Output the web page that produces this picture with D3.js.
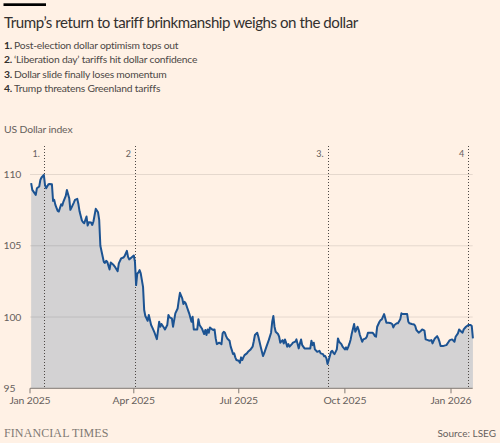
<!DOCTYPE html>
<html>
<head>
<meta charset="utf-8">
<script src="https://cdn.jsdelivr.net/npm/d3@7"></script>
<style>
  body { margin:0; background:#fff1e5; }
  svg { display:block; font-family:Lato, "Noto Sans", sans-serif; }
</style>
</head>
<body>
<div id="chart-area"></div>
<script>

// DXY closes
var dates = [
 "2025-01-02","2025-01-03","2025-01-06","2025-01-07","2025-01-09","2025-01-10","2025-01-11","2025-01-13","2025-01-14","2025-01-15",
 "2025-01-17","2025-01-18","2025-01-20","2025-01-21","2025-01-22","2025-01-23","2025-01-25","2025-01-26","2025-01-28","2025-01-29",
 "2025-01-30","2025-02-01","2025-02-02","2025-02-04","2025-02-05","2025-02-06","2025-02-08","2025-02-09","2025-02-11","2025-02-12",
 "2025-02-13","2025-02-15","2025-02-16","2025-02-17","2025-02-19","2025-02-20","2025-02-21","2025-02-23","2025-02-24","2025-02-25",
 "2025-02-27","2025-03-01","2025-03-02","2025-03-03","2025-03-05","2025-03-06","2025-03-07","2025-03-08","2025-03-09","2025-03-11",
 "2025-03-12","2025-03-14","2025-03-16","2025-03-18","2025-03-19","2025-03-21","2025-03-23","2025-03-24","2025-03-26","2025-03-27",
 "2025-03-28","2025-03-30","2025-04-01","2025-04-02","2025-04-03","2025-04-04","2025-04-05","2025-04-06","2025-04-07","2025-04-09",
 "2025-04-10","2025-04-11","2025-04-12","2025-04-13","2025-04-14","2025-04-16","2025-04-17","2025-04-19","2025-04-21","2025-04-23",
 "2025-04-24","2025-04-25","2025-04-27","2025-04-28","2025-04-30","2025-05-01","2025-05-02","2025-05-04","2025-05-05","2025-05-07",
 "2025-05-09","2025-05-10","2025-05-11","2025-05-13","2025-05-14","2025-05-15","2025-05-16","2025-05-17","2025-05-18","2025-05-19",
 "2025-05-21","2025-05-22","2025-05-23","2025-05-24","2025-05-26","2025-05-27","2025-05-28","2025-05-29","2025-05-30","2025-06-01",
 "2025-06-02","2025-06-03","2025-06-04","2025-06-05","2025-06-06","2025-06-08","2025-06-09","2025-06-10","2025-06-11","2025-06-12",
 "2025-06-13","2025-06-14","2025-06-16","2025-06-17","2025-06-18","2025-06-19","2025-06-20","2025-06-21","2025-06-23","2025-06-24",
 "2025-06-25","2025-06-26","2025-06-27","2025-06-28","2025-06-29","2025-07-01","2025-07-02","2025-07-03","2025-07-04","2025-07-05",
 "2025-07-06","2025-07-08","2025-07-09","2025-07-11","2025-07-13","2025-07-14","2025-07-15","2025-07-17","2025-07-18","2025-07-19",
 "2025-07-20","2025-07-22","2025-07-23","2025-07-25","2025-07-27","2025-07-29","2025-07-30","2025-07-31","2025-08-01","2025-08-02",
 "2025-08-04","2025-08-05","2025-08-06","2025-08-08","2025-08-09","2025-08-10","2025-08-11","2025-08-12","2025-08-13","2025-08-14",
 "2025-08-16","2025-08-17","2025-08-19","2025-08-20","2025-08-22","2025-08-23","2025-08-24","2025-08-25","2025-08-27","2025-08-28",
 "2025-08-30","2025-09-01","2025-09-02","2025-09-03","2025-09-04","2025-09-05","2025-09-07","2025-09-09","2025-09-10","2025-09-12",
 "2025-09-13","2025-09-14","2025-09-15","2025-09-16","2025-09-19","2025-09-20","2025-09-21","2025-09-22","2025-09-24","2025-09-25",
 "2025-09-26","2025-09-28","2025-09-29","2025-10-01","2025-10-02","2025-10-03","2025-10-04","2025-10-05","2025-10-06","2025-10-07",
 "2025-10-09","2025-10-10","2025-10-11","2025-10-12","2025-10-13","2025-10-14","2025-10-16","2025-10-17","2025-10-19","2025-10-20",
 "2025-10-21","2025-10-23","2025-10-25","2025-10-26","2025-10-27","2025-10-28","2025-10-29","2025-10-31","2025-11-01","2025-11-02",
 "2025-11-04","2025-11-05","2025-11-06","2025-11-08","2025-11-10","2025-11-11","2025-11-12","2025-11-13","2025-11-15","2025-11-16",
 "2025-11-18","2025-11-19","2025-11-20","2025-11-22","2025-11-24","2025-11-25","2025-11-26","2025-11-28","2025-11-30","2025-12-01",
 "2025-12-02","2025-12-04","2025-12-06","2025-12-07","2025-12-09","2025-12-10","2025-12-12","2025-12-13","2025-12-15","2025-12-16",
 "2025-12-17","2025-12-18","2025-12-20","2025-12-21","2025-12-22","2025-12-23","2025-12-25","2025-12-27","2025-12-28","2025-12-30",
 "2025-12-31","2026-01-02","2026-01-04","2026-01-05","2026-01-07","2026-01-08","2026-01-10","2026-01-11","2026-01-12","2026-01-14",
 "2026-01-16","2026-01-18","2026-01-19","2026-01-20"
];

var values = [
 109.39,108.92,108.57,109.04,109.16,109.62,109.79,109.97,109.27,109.04,
 109.32,109.34,109.32,108.15,108.22,107.87,107.45,107.40,107.91,107.82,
 108.10,108.50,108.92,108.34,107.52,107.68,108.03,108.22,108.29,107.91,
 107.40,106.77,106.65,106.58,107.05,106.42,106.65,106.63,106.46,106.70,
 107.59,107.35,106.81,105.00,104.25,103.87,103.80,103.94,103.87,103.34,
 103.83,103.69,103.48,103.22,103.76,104.11,104.18,104.27,104.64,104.22,
 104.04,104.18,104.32,103.87,102.24,103.06,103.13,103.29,103.06,102.12,
 100.49,100.07,99.91,99.74,100.14,99.44,99.27,98.90,98.45,99.67,
 99.32,99.51,99.27,99.13,99.44,100.14,99.98,99.91,99.32,100.26,
 100.60,101.19,101.70,101.31,100.91,101.07,100.96,100.72,100.49,100.26,
 99.67,100.02,99.13,99.13,99.13,99.84,99.44,99.32,99.20,98.81,
 99.09,98.74,99.13,98.90,99.27,99.13,99.09,99.13,98.50,98.10,
 98.15,98.20,98.10,98.85,98.97,98.90,98.66,98.50,98.34,97.92,
 97.68,97.40,97.45,97.17,96.98,96.93,96.79,97.17,96.98,97.17,
 97.33,97.45,97.56,97.70,97.92,98.30,98.74,98.90,98.62,98.27,
 97.92,97.26,97.45,97.92,98.38,98.90,99.67,100.07,99.32,98.97,
 98.81,98.62,98.20,98.38,98.15,98.43,98.20,97.92,98.10,97.92,
 98.10,98.20,98.27,98.43,97.80,98.15,98.43,98.03,97.80,97.80,
 97.80,97.80,98.34,98.03,98.20,97.73,97.56,97.63,97.45,97.40,
 97.25,97.26,97.10,96.70,97.56,97.63,97.49,97.40,97.73,98.50,
 98.27,98.10,97.92,97.73,97.87,97.73,97.92,98.15,98.43,98.85,
 99.51,98.97,99.13,99.32,99.09,98.74,98.27,98.43,98.50,98.62,
 98.90,98.90,98.90,98.81,98.66,98.62,99.32,99.67,99.79,99.84,
 100.21,99.91,99.60,99.60,99.56,99.51,99.27,99.44,99.56,99.56,
 99.84,100.26,100.21,100.21,100.21,99.67,99.56,99.51,99.48,99.37,
 99.09,98.90,99.04,99.13,99.04,98.43,98.38,98.34,98.38,98.15,
 98.34,98.50,98.66,98.50,98.27,97.96,97.96,98.01,98.03,98.27,
 98.38,98.43,98.27,98.62,98.85,99.13,98.97,98.90,99.13,99.32,
 99.44,99.44,99.37,98.50
];

var yTicks = [95, 100, 105, 110];
var xTickDates = ["2025-01-01","2025-04-01","2025-07-01","2025-10-01","2026-01-01"];
var xTickLabels = ["Jan 2025","Apr 2025","Jul 2025","Oct 2025","Jan 2026"];

var eventDates = ["2025-01-13","2025-04-02","2025-09-16","2026-01-16"];
var eventLabels = ["1.","2","3.","4"];
var eventNotes = [
 "Post-election dollar optimism tops out",
 "\u2018Liberation day\u2019 tariffs hit dollar confidence",
 "Dollar slide finally loses momentum",
 "Trump threatens Greenland tariffs"
];

var parse = d3.timeParse("%Y-%m-%d");
var data = dates.map(function(d, i) { return { date: parse(d), value: values[i] }; });

var W = 500, H = 443;

var svg = d3.select("#chart-area").append("svg")
  .attr("width", W)
  .attr("height", H);

svg.append("rect").attr("width", W).attr("height", H).attr("fill", "#fff1e5");

// header
svg.append("rect").attr("x", 3.5).attr("y", 3.3).attr("width", 42.5).attr("height", 2.7).attr("fill", "#000");

svg.append("text")
  .attr("x", 4).attr("y", 27.5)
  .attr("font-size", 15.1)
  .attr("letter-spacing", -0.45)
  .attr("fill", "#33302e")
  .text("Trump\u2019s return to tariff brinkmanship weighs on the dollar");

var notes = svg.append("g").attr("font-size", 10.3).attr("letter-spacing", -0.2).attr("fill", "#33302e");
eventNotes.forEach(function(n, i) {
  var t = notes.append("text").attr("x", 4).attr("y", 49.2 + i * 14.2);
  t.append("tspan").attr("font-weight", "bold").text((i + 1) + ".");
  t.append("tspan").attr("dx", 2).attr("fill", "#4d4845").text(n);
});

svg.append("text")
  .attr("x", 4).attr("y", 132.5)
  .attr("font-size", 10.4)
  .attr("letter-spacing", -0.15)
  .attr("fill", "#66605c")
  .text("US Dollar index");

// scales
var x = d3.scaleTime()
  .domain([parse("2025-01-01"), parse("2026-01-01")])
  .range([30, 451]);

var y = d3.scaleLinear()
  .domain([95, 112])
  .range([388.3, 146]);

var xEnd = 472.7;

// area + line
var area = d3.area()
  .x(function(d) { return x(d.date); })
  .y0(y(95))
  .y1(function(d) { return y(d.value); });

svg.append("path")
  .datum(data)
  .attr("d", area)
  .attr("fill", "#d3d2d3");

// gridlines on top of the area
svg.selectAll(".grid")
  .data(yTicks.filter(function(t) { return t > 95; }))
  .enter().append("line")
  .attr("class", "grid")
  .attr("x1", 30).attr("x2", xEnd)
  .attr("y1", function(d) { return y(d); })
  .attr("y2", function(d) { return y(d); })
  .attr("stroke", "#000")
  .attr("stroke-opacity", 0.1)
  .attr("stroke-width", 1);

svg.selectAll(".ylab")
  .data(yTicks)
  .enter().append("text")
  .attr("class", "ylab")
  .attr("x", 3.5)
  .attr("y", function(d) { return y(d) + 3.5; })
  .attr("font-size", 10.4)
  .attr("letter-spacing", -0.1)
  .attr("fill", "#66605c")
  .text(function(d) { return d; });

// event markers
svg.selectAll(".event")
  .data(eventDates)
  .enter().append("line")
  .attr("class", "event")
  .attr("x1", function(d) { return Math.round(x(parse(d))) + 0.5; })
  .attr("x2", function(d) { return Math.round(x(parse(d))) + 0.5; })
  .attr("y1", 146).attr("y2", y(95))
  .attr("stroke", "#4d4845")
  .attr("stroke-width", 1)
  .attr("stroke-dasharray", "1,2");

svg.selectAll(".eventlab")
  .data(eventDates)
  .enter().append("text")
  .attr("class", "eventlab")
  .attr("x", function(d) { return x(parse(d)) - 4; })
  .attr("y", 156.5)
  .attr("text-anchor", "end")
  .attr("font-size", 9)
  .attr("fill", "#66605c")
  .text(function(d, i) { return eventLabels[i]; });

var line = d3.line()
  .x(function(d) { return x(d.date); })
  .y(function(d) { return y(d.value); });

svg.append("path")
  .datum(data)
  .attr("d", line)
  .attr("fill", "none")
  .attr("stroke", "#1c5392")
  .attr("stroke-width", 2)
  .attr("stroke-linejoin", "round");

// x axis
var xAxis = svg.append("g").attr("transform", "translate(0," + y(95) + ")");
xAxis.append("line")
  .attr("x1", 30).attr("x2", xEnd)
  .attr("stroke", "#807973").attr("stroke-width", 1);

xTickDates.forEach(function(d, i) {
  var px = x(parse(d));
  xAxis.append("line")
    .attr("x1", px).attr("x2", px)
    .attr("y1", 0).attr("y2", 5)
    .attr("stroke", "#807973");
  xAxis.append("text")
    .attr("x", px).attr("y", 16)
    .attr("text-anchor", "middle")
    .attr("font-size", 10.4)
    .attr("letter-spacing", -0.1)
    .attr("fill", "#66605c")
    .text(xTickLabels[i]);
});

// footer
svg.append("text")
  .attr("x", 4).attr("y", 437)
  .attr("font-family", "'Liberation Serif', 'DejaVu Serif', serif")
  .attr("font-size", 12)
  .attr("letter-spacing", 0.1)
  .attr("fill", "#807973")
  .text("FINANCIAL TIMES");

svg.append("text")
  .attr("x", 496).attr("y", 437)
  .attr("text-anchor", "end")
  .attr("font-size", 10)
  .attr("fill", "#66605c")
  .text("Source: LSEG");

</script>
</body>
</html>
